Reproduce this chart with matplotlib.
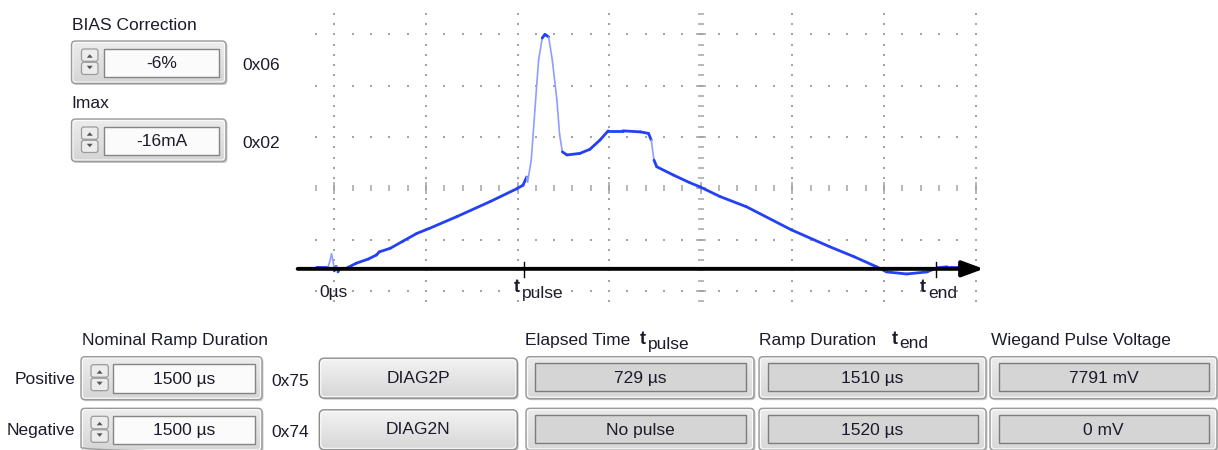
import numpy as np
import matplotlib
matplotlib.use("Agg")
import matplotlib.pyplot as plt
from matplotlib.patches import FancyBboxPatch, Rectangle, Polygon
from matplotlib.colors import LinearSegmentedColormap
from matplotlib.collections import LineCollection

plt.rcParams["font.family"] = ["Liberation Sans", "DejaVu Sans"]

# widget contents
top_labels = ["BIAS Correction", "Imax"]
top_values = ["-6%", "-16mA"]
top_codes = ["0x06", "0x02"]

row_labels = ["Positive", "Negative"]
ramp_values = ["1500 µs", "1500 µs"]
ramp_codes = ["0x75", "0x74"]
diag_buttons = ["DIAG2P", "DIAG2N"]
elapsed_values = ["729 µs", "No pulse"]
duration_values = ["1510 µs", "1520 µs"]
voltage_values = ["7791 mV", "0 mV"]

# scope trace, in grid divisions (x: time, y: amplitude, 0 = screen centre)
trace_t = [-4.20, -4.07, -4.05, -4.03, -4.01, -4.00, -3.98, -3.96, -3.94, -3.87,
           -3.76, -3.63, -3.54, -3.51, -3.39, -3.25, -3.10, -2.96, -2.66, -2.30,
           -2.01, -1.94, -1.90, -1.89, -1.85, -1.81, -1.77, -1.73, -1.70, -1.66,
           -1.62, -1.57, -1.54, -1.51, -1.46, -1.32, -1.21, -1.10, -1.01, -0.85,
           -0.66, -0.57, -0.54, -0.51, -0.48, -0.30, -0.12, -0.01, 0.21, 0.50,
           0.99, 1.41, 1.67, 1.92, 2.03, 2.25, 2.47, 2.58, 2.69, 2.90]
trace_v = [-1.54, -1.54, -1.43, -1.28, -1.46, -1.61, -1.52, -1.63, -1.56, -1.56,
           -1.46, -1.38, -1.30, -1.24, -1.17, -1.03, -0.88, -0.78, -0.55, -0.26,
           -0.01, 0.06, 0.22, 0.12, 0.55, 1.53, 2.50, 2.93, 3.00, 2.95,
           2.50, 1.72, 1.04, 0.71, 0.65, 0.68, 0.76, 0.94, 1.12, 1.12,
           1.10, 1.07, 0.94, 0.55, 0.42, 0.26, 0.11, 0.03, -0.16, -0.36,
           -0.81, -1.14, -1.33, -1.53, -1.63, -1.67, -1.63, -1.55, -1.53, -1.53]

axis_level = -1.57
marker_ticks = [-1.926, 2.574]
marker_names = ["0µs", "pulse", "end"]
marker_label_x = [-4.01, -2.046, 2.392]

text_c = "#1b1b2b"
grid_c = "#a4a4a4"
fs = 12.5

fig = plt.figure(figsize=(12.18, 4.5), dpi=100)
bg = fig.add_axes([0, 0, 1, 1])
bg.axis("off")


def grad_box(x0, y0, x1, y1, r, c_top, c_bot, ec, lw=1.0, z=2, shadow=True):
    if shadow:
        bg.add_patch(FancyBboxPatch((x0 + 1.5, y0 + 1.5), x1 - x0, y1 - y0,
                                    boxstyle=f"round,pad=0,rounding_size={r}",
                                    fc="#cdcdcd", ec="none", zorder=z - 0.5))
    patch = FancyBboxPatch((x0, y0), x1 - x0, y1 - y0,
                           boxstyle=f"round,pad=0,rounding_size={r}",
                           fc="none", ec=ec, lw=lw, zorder=z + 0.2)
    bg.add_patch(patch)
    cm = LinearSegmentedColormap.from_list("g", [c_top, c_bot])
    im = bg.imshow(np.linspace(0, 1, 64)[:, None], cmap=cm, extent=(x0, x1, y1, y0),
                   origin="upper", aspect="auto", zorder=z, interpolation="bilinear")
    im.set_clip_path(patch)
    bg.add_patch(FancyBboxPatch((x0 + 1.5, y0 + 1.5), x1 - x0 - 3, y1 - y0 - 3,
                                boxstyle=f"round,pad=0,rounding_size={max(r - 1, 1)}",
                                fc="none", ec="#fafafa", lw=0.8, zorder=z + 0.1))


def field(x0, y0, x1, y1, fc="#fbfbfb", ec="#858585"):
    bg.add_patch(Rectangle((x0, y0), x1 - x0, y1 - y0, fc=fc, ec=ec, lw=1.0, zorder=4))


def updown(x0, y0, x1, y1):
    ym = (y0 + y1) / 2
    for a, b in [(y0, ym), (ym, y1)]:
        bg.add_patch(FancyBboxPatch((x0, a + 0.5), x1 - x0, b - a - 1,
                                    boxstyle="round,pad=0,rounding_size=2.5",
                                    fc="#ececec", ec="#9a9a9a", lw=0.9, zorder=4))
    xc = (x0 + x1) / 2
    bg.add_patch(Polygon([[xc - 3, ym - 4], [xc + 3, ym - 4], [xc, ym - 7.5]],
                         closed=True, fc="#555555", ec="none", zorder=5))
    bg.add_patch(Polygon([[xc - 3, ym + 4], [xc + 3, ym + 4], [xc, ym + 7.5]],
                         closed=True, fc="#555555", ec="none", zorder=5))


def spinbox(x0, y0, x1, y1, ud, fx, value):
    grad_box(x0, y0, x1, y1, 4, "#ededed", "#d5d5d5", "#9a9a9a")
    updown(ud[0], y0 + 7.5, ud[1], y1 - 8.5)
    field(fx[0], y0 + 7.5, fx[1], y1 - 7)
    bg.text((fx[0] + fx[1]) / 2, (y0 + y1) / 2 + 1, value, ha="center", va="center",
            fontsize=fs, color=text_c, zorder=6)


def sub_label(x, y, sub):
    bg.text(x, y, "t", ha="left", va="center", fontsize=fs + 0.5,
            fontweight="bold", color=text_c)
    bg.text(x + 7.5, y + 4.5, sub, ha="left", va="center", fontsize=fs, color=text_c)


# top-left spin boxes
for i, top in enumerate([41, 119]):
    bg.text(71.5, top - 15, top_labels[i], ha="left", va="center", fontsize=fs, color=text_c)
    spinbox(71.5, top, 226, top + 42.5, (81.5, 98), (104, 219), top_values[i])
    bg.text(242, top + 24, top_codes[i], ha="left", va="center", fontsize=fs, color=text_c)

# bottom panel headers
bg.text(81.7, 340.7, "Nominal Ramp Duration", ha="left", va="center", fontsize=fs, color=text_c)
bg.text(525, 340.7, "Elapsed Time", ha="left", va="center", fontsize=fs, color=text_c)
sub_label(640, 339.5, "pulse")
bg.text(759, 340.7, "Ramp Duration", ha="left", va="center", fontsize=fs, color=text_c)
sub_label(891.5, 339.5, "end")
bg.text(990.7, 340.7, "Wiegand Pulse Voltage", ha="left", va="center", fontsize=fs, color=text_c)

display_cols = [(526, 754), (759, 986), (990, 1217)]
for i, top in enumerate([356.7, 408.3]):
    bg.text(75, top + 22.5, row_labels[i], ha="right", va="center", fontsize=fs, color=text_c)
    spinbox(81, top, 262, top + 43, (91, 108.3), (113.3, 255), ramp_values[i])
    bg.text(271.5, top + 24.5, ramp_codes[i], ha="left", va="center", fontsize=fs, color=text_c)
    grad_box(319.3, top + 1.5, 517.3, top + 41.5, 5, "#f3f3f3", "#d6d6d6", "#8c8c8c")
    bg.text(418.3, top + 21.5, diag_buttons[i], ha="center", va="center",
            fontsize=fs, color=text_c, zorder=6)
    vals = [elapsed_values[i], duration_values[i], voltage_values[i]]
    for (x0, x1), v in zip(display_cols, vals):
        grad_box(x0, top, x1, top + 42, 4, "#ebebeb", "#d8d8d8", "#9a9a9a")
        field(x0 + 9, top + 6.5, x1 - 8, top + 34.5, "#d5d5d5", "#7c7c7c")
        bg.text((x0 + x1) / 2, top + 22, v, ha="center", va="center",
                fontsize=fs, color=text_c, zorder=6)

bg.set_xlim(0, 1218)
bg.set_ylim(450, 0)

# scope screen
px_div, py_div = 91.6, 51.3
cx, cy = 700.7, 188.3
x_lo, x_hi, y_lo, y_hi = -4.45, 3.2, -2.25, 3.5
left = cx + x_lo * px_div
right = cx + x_hi * px_div
top_px = cy - y_hi * py_div
bot_px = cy - y_lo * py_div
ax = fig.add_axes([left / 1218, 1 - bot_px / 450, (right - left) / 1218, (bot_px - top_px) / 450])
ax.set_xlim(x_lo, x_hi)
ax.set_ylim(y_lo, y_hi)
ax.axis("off")
ax.patch.set_alpha(0)

minor_x = np.round(np.arange(-4.2, 3.01, 0.2), 2)
minor_y = np.round(np.arange(-2.2, 3.41, 0.2), 2)
for gx in range(-4, 4):
    if gx != 0:
        ax.plot(np.full_like(minor_y, gx), minor_y, "s", ms=1.5, mew=0, color=grid_c)
for gy in range(-2, 4):
    if gy != 0:
        ax.plot(minor_x, np.full_like(minor_x, gy), "s", ms=1.5, mew=0, color=grid_c)
ax.plot(np.zeros_like(minor_y), minor_y, "_", ms=4.5, mew=1.1, color=grid_c)
ax.plot(np.zeros(6), np.arange(-2, 4), "_", ms=7.5, mew=1.1, color=grid_c)
ax.plot(minor_x, np.zeros_like(minor_x), "|", ms=4.5, mew=1.1, color=grid_c)
ax.plot(np.arange(-4, 4), np.zeros(8), "|", ms=8.5, mew=1.1, color=grid_c)

pts = np.column_stack([trace_t, trace_v])
segs = np.stack([pts[:-1], pts[1:]], axis=1)
d = np.diff(pts, axis=0)
slope = np.abs(d[:, 1] * py_div) / (np.abs(d[:, 0] * px_div) + 1e-6)
steep = slope > 3
colors = np.where(steep, "#8f9dff", "#2440f5")
widths = np.where(steep, 1.2, 2.0)
ax.add_collection(LineCollection(segs, colors=colors, linewidths=widths,
                                 capstyle="round", joinstyle="round", zorder=3))

ax.annotate("", xy=(3.09, axis_level), xytext=(-4.40, axis_level),
            arrowprops=dict(arrowstyle="-|>,head_length=0.65,head_width=0.24",
                            mutation_scale=20, lw=2.8, color="black",
                            shrinkA=0, shrinkB=0), zorder=4)
for mx in marker_ticks:
    ax.plot([mx, mx], [-1.43, -1.73], color="black", lw=1.0, zorder=5)

ax.text(marker_label_x[0], -2.04, marker_names[0], ha="center", va="center",
        fontsize=fs, color=text_c)
for lx, name in zip(marker_label_x[1:], marker_names[1:]):
    ax.annotate("t", (lx, -1.93), ha="left", va="center", fontsize=fs + 0.5,
                fontweight="bold", color=text_c)
    ax.annotate(name, (lx, -1.93), xytext=(6, -4.5), textcoords="offset points",
                ha="left", va="center", fontsize=fs, color=text_c)

fig.savefig("out.png", dpi=100)
